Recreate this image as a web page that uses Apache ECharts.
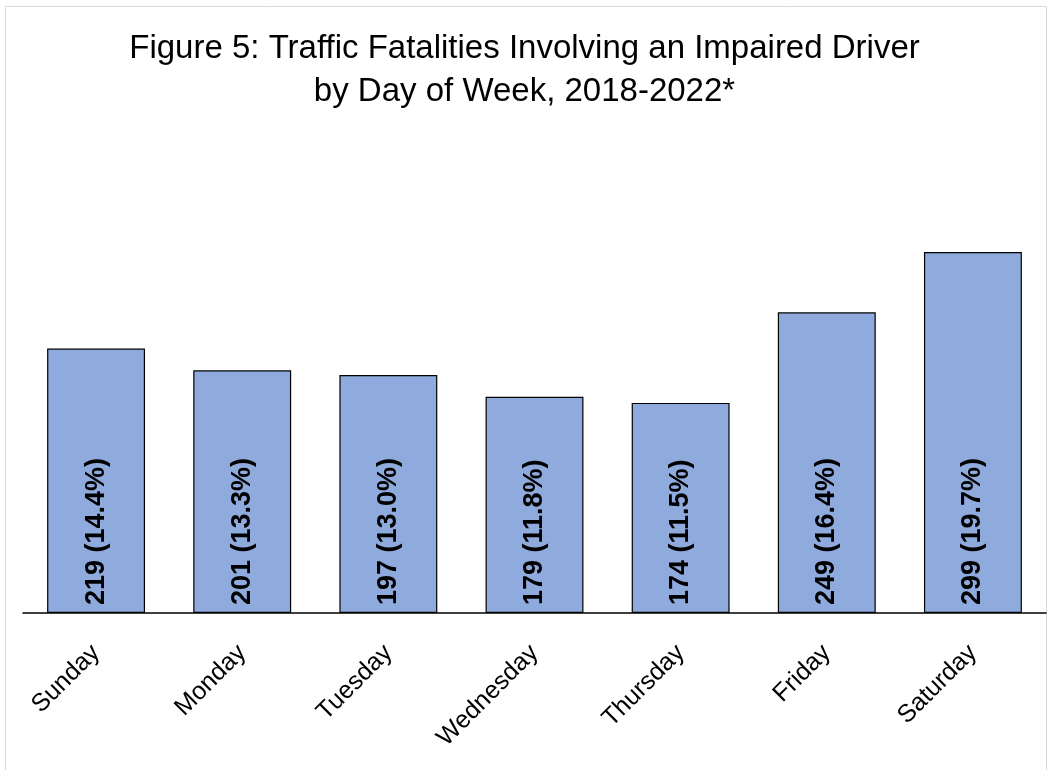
<!DOCTYPE html>
<html>
<head>
<meta charset="utf-8">
<script src="https://cdn.jsdelivr.net/npm/echarts@6/dist/echarts.min.js"></script>
<style>
  html, body { margin: 0; padding: 0; background: #fff; }
  #chart { width: 1049px; height: 770px; }
</style>
</head>
<body>
<div id="chart"></div>
<script>
var days = ['Sunday', 'Monday', 'Tuesday', 'Wednesday', 'Thursday', 'Friday', 'Saturday'];
var fatalities = [219, 201, 197, 179, 174, 249, 299];
var shares = ['14.4%', '13.3%', '13.0%', '11.8%', '11.5%', '16.4%', '19.7%'];

var font = "'Liberation Sans', 'DejaVu Sans', sans-serif";

var chart = echarts.init(document.getElementById('chart'));
chart.setOption({
    backgroundColor: '#fff',
    animation: false,
    title: {
        text: 'Figure 5: Traffic Fatalities Involving an Impaired Driver\nby Day of Week, 2018-2022*',
        left: 'center',
        top: 22,
        textStyle: {
            fontFamily: font,
            fontSize: 33,
            fontWeight: 'normal',
            color: '#000',
            lineHeight: 43
        }
    },
    graphic: [{
        type: 'rect',
        shape: { x: 5.5, y: 6.5, width: 1041, height: 770 },
        style: { fill: null, stroke: '#d9d9d9', lineWidth: 1 },
        silent: true
    }],
    grid: {
        left: 23,
        right: 3,
        top: 130,
        bottom: 157
    },
    xAxis: {
        type: 'category',
        data: days,
        axisLine: { lineStyle: { color: '#000', width: 1.5 } },
        axisTick: { show: false },
        axisLabel: {
            interval: 0,
            rotate: 45,
            margin: 36,
            fontFamily: font,
            fontSize: 25,
            color: '#000'
        }
    },
    yAxis: {
        type: 'value',
        min: 0,
        max: 400,
        show: false,
        splitLine: { show: false }
    },
    series: [{
        type: 'bar',
        data: fatalities,
        barCategoryGap: '33%',
        itemStyle: {
            color: '#8faadc',
            borderColor: '#000',
            borderWidth: 1.2
        },
        label: {
            show: true,
            position: 'insideBottom',
            rotate: 90,
            align: 'left',
            verticalAlign: 'middle',
            distance: 8,
            fontFamily: font,
            fontSize: 27,
            fontWeight: 'bold',
            color: '#000',
            formatter: function (p) {
                return p.value + ' (' + shares[p.dataIndex] + ')';
            }
        }
    }]
});
</script>
</body>
</html>
